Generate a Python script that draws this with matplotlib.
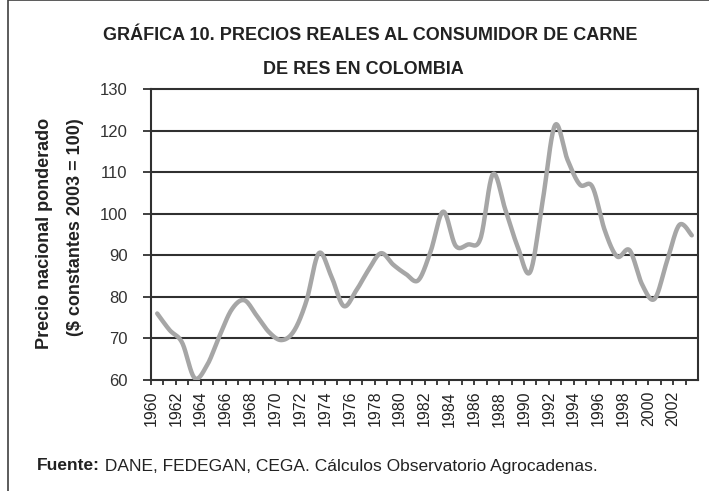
import matplotlib
matplotlib.use("Agg")
import matplotlib.pyplot as plt
import numpy as np
from matplotlib import font_manager
from matplotlib.patches import Rectangle

# datos (indice, $ constantes 2003 = 100)
years = list(range(1960, 2004))
precio = [76.0, 72.0, 69.0, 60.5, 63.5, 70.5, 77.0, 79.2, 75.5, 71.5,
          69.6, 71.8, 79.0, 90.5, 85.0, 77.8, 81.5, 86.5, 90.5, 87.7,
          85.5, 84.0, 91.0, 100.5, 92.3, 92.6, 94.0, 109.5, 101.0, 92.0,
          86.0, 103.0, 121.3, 113.0, 107.0, 106.5, 96.0, 89.7, 91.2, 83.0,
          79.5, 88.5, 97.3, 94.8]
tick_years = list(range(1960, 2004, 2))
y_ticks = [60, 70, 80, 90, 100, 110, 120, 130]

titulo = ["GRÁFICA 10. PRECIOS REALES AL CONSUMIDOR DE CARNE",
          "DE RES EN COLOMBIA"]
ylab = ["Precio nacional ponderado", "($ constantes 2003 = 100)"]
fuente_b = "Fuente:"
fuente = " DANE, FEDEGAN, CEGA. Cálculos Observatorio Agrocadenas."

names = {f.name for f in font_manager.fontManager.ttflist}
narrow = "Liberation Sans Narrow" if "Liberation Sans Narrow" in names else "Liberation Sans"
plt.rcParams["font.family"] = [narrow, "DejaVu Sans"]

W, H = 709, 491


def px(x, y):
    return x / W, 1 - y / H


def smooth(xs, ys, n=20):
    # curva suavizada tipo Excel (Catmull-Rom)
    p = np.column_stack([xs, ys]).astype(float)
    p = np.vstack([p[0], p, p[-1]])
    out = []
    t = np.linspace(0, 1, n, endpoint=False)
    for i in range(1, len(p) - 2):
        p0, p1, p2, p3 = p[i - 1], p[i], p[i + 1], p[i + 2]
        m1 = (p2 - p0) / 2
        m2 = (p3 - p1) / 2
        h00 = 2 * t**3 - 3 * t**2 + 1
        h10 = t**3 - 2 * t**2 + t
        h01 = -2 * t**3 + 3 * t**2
        h11 = t**3 - t**2
        seg = (h00[:, None] * p1 + h10[:, None] * m1
               + h01[:, None] * p2 + h11[:, None] * m2)
        out.append(seg)
    out.append(p[-2][None, :])
    out = np.vstack(out)
    return out[:, 0], out[:, 1]


fig = plt.figure(figsize=(W / 100, H / 100), dpi=100)
fig.patch.set_facecolor("white")

# marco exterior
fig.patches.append(Rectangle(px(8, 600), 2, 600 / H, transform=fig.transFigure,
                             fill=False, ec="#404040", lw=1.2))

l, b = px(151, 380)
r, t = px(698, 89)
ax = fig.add_axes([l, b, r - l, t - b])

xm = np.array(years) + 0.5
sx, sy = smooth(xm, precio)
ax.plot(sx, sy, color="#a6a6a6", lw=3.2, solid_capstyle="round", zorder=3)

ax.set_xlim(1960, 2004)
ax.set_ylim(60, 130)
ax.set_yticks(y_ticks)
ax.set_yticklabels([str(v) for v in y_ticks], fontsize=12)
ax.set_xticks(tick_years)
ax.set_xticklabels([str(v) for v in tick_years], rotation=90, fontsize=11.5)
ax.set_xticks(range(1961, 2005, 2), minor=True)

for v in y_ticks[1:-1]:
    ax.axhline(v, color="#303030", lw=1.5, zorder=2)
for s in ax.spines.values():
    s.set_color("#303030")
    s.set_linewidth(1.5)

ax.tick_params(axis="y", direction="out", length=6, width=1.3, pad=11,
               colors="#303030", labelcolor="#333333")
ax.tick_params(axis="x", which="both", direction="out", length=3.8, width=1.3,
               pad=4, colors="#303030", labelcolor="#222222")

fig.text(*px(370, 36), titulo[0], ha="center", va="center",
         fontsize=13, fontweight="bold", color="#222222")
fig.text(*px(363, 70), titulo[1], ha="center", va="center",
         fontsize=13, fontweight="bold", color="#222222")

fig.text(*px(45, 233), ylab[0], rotation=90, ha="center", va="center",
         fontsize=13, fontweight="bold", color="#222222")
fig.text(*px(76, 227), ylab[1], rotation=90, ha="center", va="center",
         fontsize=13, fontweight="bold", color="#222222")

tb = fig.text(*px(37, 466), fuente_b, ha="left", va="center",
              fontsize=12.5, fontweight="bold", color="#222222")
fig.canvas.draw()
bb = tb.get_window_extent(fig.canvas.get_renderer())
fig.text(bb.x1 / W, 1 - 466 / H, fuente, ha="left", va="center",
         fontsize=12.5, color="#222222")

fig.savefig("out.png", dpi=100, facecolor="white")
